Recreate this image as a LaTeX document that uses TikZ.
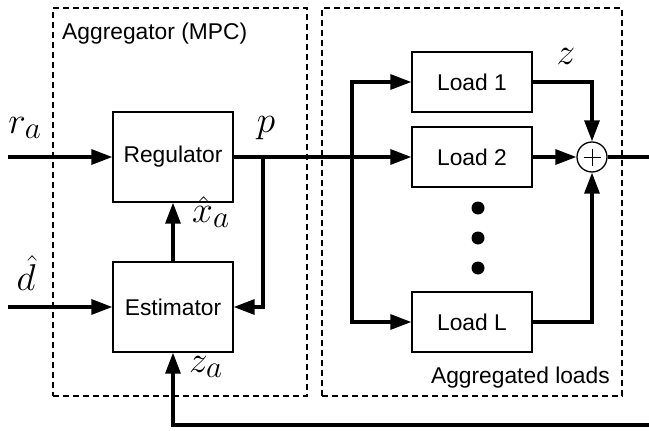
\documentclass[tikz,border=0pt]{standalone}
\usepackage{graphicx}
\usepackage{fontspec}
\setmainfont{Liberation Sans}
\usetikzlibrary{arrows.meta}
\newcommand{\mlab}[1]{\scalebox{1.5}{\Huge$#1$}}
\tikzset{
  blk/.style={draw, line width=1.3pt, inner sep=0pt, minimum width=120pt,
    font=\fontsize{22.8}{26}\selectfont},
  grp/.style={draw, line width=1.3pt, dash pattern=on 6pt off 4pt, inner sep=0pt},
  wire/.style={line width=3.2pt},
  sig/.style={line width=3.2pt, -{Triangle[length=21pt,width=15pt]}},
  ml/.style={inner sep=0pt},
  txt/.style={inner sep=0pt, font=\fontsize{22.8}{26}\selectfont},
  dotn/.style={circle, fill, inner sep=0pt, minimum size=13pt},
}
\begin{document}
\begin{tikzpicture}[x=1pt,y=-1pt]
\useasboundingbox (0,0) rectangle (649,431);
% groups
\node[grp, minimum width=254pt, minimum height=388pt] (agg) at (180,202) {};
\node[grp, minimum width=300pt, minimum height=388pt] (ald) at (472,202) {};
\node[txt, anchor=base west] (tagg) at (62,39.5) {Aggregator (MPC)};
\node[txt, anchor=base east] (tald) at (610,383) {Aggregated loads};
% blocks
\node[blk, minimum height=90pt] (reg) at (173,157) {Regulator};
\node[blk, minimum height=90pt] (est) at (173,307) {Estimator};
\node[blk, minimum height=60pt] (l1) at (472,82) {Load 1};
\node[blk, minimum height=60pt] (l2) at (472,157) {Load 2};
\node[blk, minimum height=60pt] (lL) at (472,322) {Load L};
\node[circle, draw, line width=1.3pt, minimum size=30pt, inner sep=0pt] (sum) at (592,157) {};
\draw[line width=0.8pt] (sum.center) ++(-8.5,0) -- ++(17,0);
\draw[line width=0.8pt] (sum.center) ++(0,-8.5) -- ++(0,17);
% dots
\node[dotn] (d1) at (478,208) {};
\node[dotn] (d2) at (478,238) {};
\node[dotn] (d3) at (478,268) {};
% coordinates
\coordinate (rin) at (8,157);
\coordinate (din) at (8,307);
\coordinate (out) at (649,157);
\coordinate (fb) at (649,425);
\coordinate (b1) at (263,157);
\coordinate (b2) at (352,157);
% connectors
\draw[sig] (rin) -- (reg.west);
\draw[sig] (din) -- (est.west);
\draw[sig] (reg.east) -- (l2.west);
\draw[sig] (b1) |- (est.east);
\draw[sig] (b2) |- (l1.west);
\draw[sig] (b2) |- (lL.west);
\draw[sig] (l1.east) -| (sum.north);
\draw[sig] (l2.east) -- (sum.west);
\draw[sig] (lL.east) -| (sum.south);
\draw[wire] (sum.east) -- (out);
\draw[sig] (fb) -| (est.south);
\draw[sig] (est.north) -- (reg.south);
% labels
\node[ml] (lra) at (25,128) {\mlab{r_a}};
\node[ml] (lp) at (266,128) {\mlab{p}};
\node[ml] (lz) at (566,56) {\mlab{z}};
\node[ml] (lxa) at (211,212) {\mlab{\hat x_a}};
\node[ml] (ld) at (26,273) {\mlab{\hat d}};
\node[ml] (lza) at (206,367) {\mlab{z_a}};
\end{tikzpicture}
\end{document}
